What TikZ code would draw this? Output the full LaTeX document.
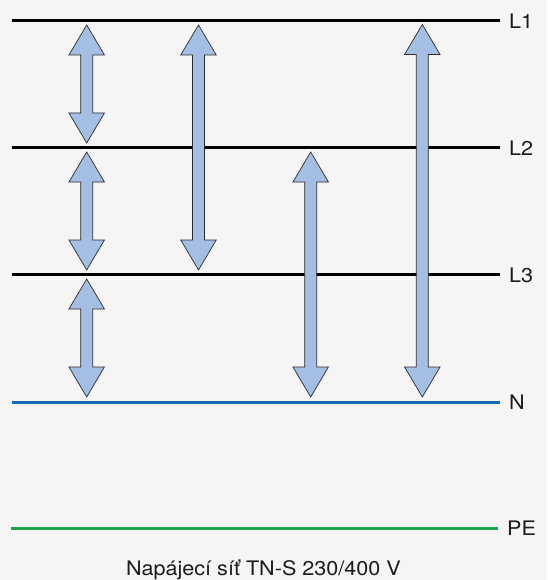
\documentclass[tikz,border=0pt]{standalone}
\usepackage{fontspec}
\setmainfont{TeX Gyre Heros}
\newfontfamily\labelfont[FakeStretch=1.08]{TeX Gyre Heros}
\usetikzlibrary{calc}

\definecolor{bgpanel}{HTML}{F5F5F5}
\definecolor{arrowblue}{HTML}{A5BEE3}
\definecolor{arrowedge}{HTML}{2B2B2B}
\definecolor{neutralblue}{HTML}{1769B5}
\definecolor{earthgreen}{HTML}{1AA548}
\definecolor{inktext}{HTML}{1C1C1C}

\tikzset{
  phase/.style={line width=2.3pt, black},
  neutral/.style={line width=3pt, neutralblue},
  earth/.style={line width=3pt, earthgreen},
  txt/.style={text=inktext, font=\labelfont\fontsize{20}{24}\selectfont},
  lbl/.style={txt, anchor=west, inner xsep=9pt, inner ysep=0pt},
  % double-headed block arrow between two points (top to bottom)
  voltarrow/.style={draw=arrowedge, fill=arrowblue, line width=0.7pt, line join=miter,
    to path={let \p1=(\tikztostart), \p2=(\tikztotarget) in
      (\x1,\y1) -- (\x1+17.75pt,\y1-30pt) -- (\x1+6pt,\y1-30pt)
      -- (\x2+6pt,\y2+30pt) -- (\x2+17.75pt,\y2+30pt) -- (\x2,\y2)
      -- (\x2-17.75pt,\y2+30pt) -- (\x2-6pt,\y2+30pt)
      -- (\x1-6pt,\y1-30pt) -- (\x1-17.75pt,\y1-30pt) -- cycle}}
}

\begin{document}
\begin{tikzpicture}[x=1pt,y=-1pt]
  \fill[bgpanel] (0,0) rectangle (547,580);
  \useasboundingbox (0,0) rectangle (547,580);

  % conductor labels and line starts
  \node[lbl] (L1) at (500,21.5)  {L1};
  \node[lbl] (L2) at (500,148.5) {L2};
  \node[lbl] (L3) at (500,275.5) {L3};
  \node[lbl] (N)  at (500,402.5) {N};
  \node[lbl] (PE) at (498,528.5) {PE};
  \coordinate (s1) at (12,20.5);
  \coordinate (s2) at (12,147.5);
  \coordinate (s3) at (12,274.5);
  \coordinate (sN) at (12,402);
  \coordinate (sPE) at (11,528);

  \draw[phase] (s1) -- (s1 -| L1.west);
  \draw[phase] (s2) -- (s2 -| L2.west);
  \draw[phase] (s3) -- (s3 -| L3.west);
  \draw[neutral] (sN) -- (sN -| N.west);
  \draw[earth] (sPE) -- (sPE -| PE.west);

  % arrow end points
  \coordinate (a1t) at (86.7,25);   \coordinate (a1b) at (86.7,143);
  \coordinate (a2t) at (86.7,152);  \coordinate (a2b) at (86.7,270);
  \coordinate (a3t) at (86.7,279);  \coordinate (a3b) at (86.7,397);
  \coordinate (b1t) at (198.5,25);  \coordinate (b1b) at (198.5,270);
  \coordinate (c1t) at (310.7,152); \coordinate (c1b) at (310.7,397);
  \coordinate (d1t) at (422.3,24.5);\coordinate (d1b) at (422.3,397);

  \draw[voltarrow] (a1t) to (a1b);
  \draw[voltarrow] (a2t) to (a2b);
  \draw[voltarrow] (a3t) to (a3b);
  \draw[voltarrow] (b1t) to (b1b);
  \draw[voltarrow] (c1t) to (c1b);
  \draw[voltarrow] (d1t) to (d1b);

  % caption
  \node[txt, anchor=base, inner sep=0pt] (cap) at (263.5,575)
    {Napájecí síť TN-S 230/400 V};
\end{tikzpicture}
\end{document}
